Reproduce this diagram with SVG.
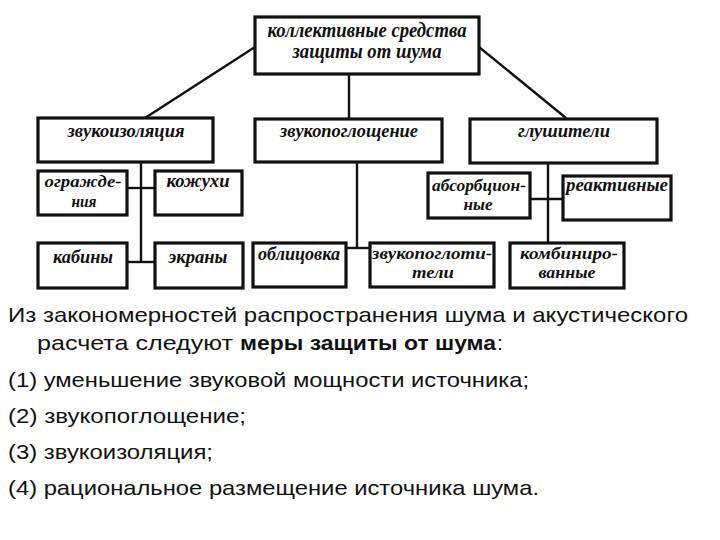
<svg xmlns="http://www.w3.org/2000/svg" width="720" height="540" viewBox="0 0 720 540">
<style>
.box{fill:#fff;stroke:#111;stroke-width:3.2}
.ln{stroke:#111;stroke-width:2.4;fill:none}
.t{font-family:"Liberation Serif","DejaVu Serif",serif;font-weight:bold;font-style:italic;font-size:18.5px;fill:#111;text-anchor:middle}
.tt{font-size:20px}
.s{font-size:17.5px}
.b{font-family:"Liberation Sans",Arial,sans-serif;font-size:21px;fill:#111}
</style>
<rect width="720" height="540" fill="#fff"/>
<g id="connectors">
<line class="ln" x1="349" y1="74" x2="349" y2="118"/>
<line class="ln" x1="255" y1="47" x2="145" y2="118"/>
<line class="ln" x1="479" y1="47" x2="566" y2="118"/>
<line class="ln" x1="141" y1="162" x2="141" y2="262"/>
<line class="ln" x1="127" y1="188" x2="155" y2="188"/>
<line class="ln" x1="127" y1="262" x2="155" y2="262"/>
<line class="ln" x1="357" y1="162" x2="357" y2="248"/>
<line class="ln" x1="346" y1="248" x2="370" y2="248"/>
<line class="ln" x1="548" y1="163" x2="548" y2="243"/>
<line class="ln" x1="530" y1="199" x2="563" y2="199"/>
</g>
<g id="root">
<rect class="box" x="255" y="17" width="224" height="57"/>
<text class="t tt" x="367" y="37" textLength="199" lengthAdjust="spacingAndGlyphs">коллективные средства</text>
<text class="t tt" x="367" y="58" textLength="149" lengthAdjust="spacingAndGlyphs">защиты от шума</text>
</g>
<g id="zvukoizolyaciya">
<rect class="box" x="38" y="118" width="175" height="44"/>
<text class="t" x="126" y="137" textLength="117" lengthAdjust="spacingAndGlyphs">звукоизоляция</text>
</g>
<g id="zvukopogloshchenie">
<rect class="box" x="255" y="119" width="187" height="43"/>
<text class="t" x="349" y="137" textLength="138" lengthAdjust="spacingAndGlyphs">звукопоглощение</text>
</g>
<g id="glushiteli">
<rect class="box" x="470" y="119" width="187" height="44"/>
<text class="t" x="564" y="137" textLength="92" lengthAdjust="spacingAndGlyphs">глушители</text>
</g>
<g id="ograzhdeniya">
<rect class="box" x="38" y="171" width="89" height="44"/>
<text class="t s" x="83" y="187" textLength="77" lengthAdjust="spacingAndGlyphs">огражде-</text>
<text class="t s" x="84" y="207" textLength="25" lengthAdjust="spacingAndGlyphs">ния</text>
</g>
<g id="kozhuhi">
<rect class="box" x="155" y="171" width="87" height="44"/>
<text class="t" x="198" y="187" textLength="63" lengthAdjust="spacingAndGlyphs">кожухи</text>
</g>
<g id="kabiny">
<rect class="box" x="38" y="243" width="89" height="45"/>
<text class="t" x="83" y="263" textLength="60" lengthAdjust="spacingAndGlyphs">кабины</text>
</g>
<g id="ekrany">
<rect class="box" x="155" y="243" width="88" height="45"/>
<text class="t" x="198" y="263" textLength="59" lengthAdjust="spacingAndGlyphs">экраны</text>
</g>
<g id="oblicovka">
<rect class="box" x="253" y="243" width="93" height="44"/>
<text class="t" x="299" y="260" textLength="82" lengthAdjust="spacingAndGlyphs">облицовка</text>
</g>
<g id="zvukopoglotiteli">
<rect class="box" x="370" y="243" width="124" height="44"/>
<text class="t s" x="432" y="259" textLength="120" lengthAdjust="spacingAndGlyphs">звукопоглоти-</text>
<text class="t s" x="433" y="278" textLength="42" lengthAdjust="spacingAndGlyphs">тели</text>
</g>
<g id="absorbcionnye">
<rect class="box" x="428" y="173" width="102" height="45"/>
<text class="t s" x="479" y="191" textLength="94" lengthAdjust="spacingAndGlyphs">абсорбцион-</text>
<text class="t s" x="478" y="210" textLength="29" lengthAdjust="spacingAndGlyphs">ные</text>
</g>
<g id="reaktivnye">
<rect class="box" x="563" y="176" width="108" height="44"/>
<text class="t" x="617" y="191" textLength="102" lengthAdjust="spacingAndGlyphs">реактивные</text>
</g>
<g id="kombinirovannye">
<rect class="box" x="510" y="243" width="114" height="45"/>
<text class="t s" x="569" y="259" textLength="98" lengthAdjust="spacingAndGlyphs">комбиниро-</text>
<text class="t s" x="567" y="278" textLength="57" lengthAdjust="spacingAndGlyphs">ванные</text>
</g>
<g id="body">
<text class="b" x="8" y="322" textLength="680" lengthAdjust="spacingAndGlyphs">Из закономерностей распространения шума и акустического</text>
<text class="b" x="37" y="350" textLength="196" lengthAdjust="spacingAndGlyphs">расчета следуют</text>
<text class="b" x="240" y="350" font-weight="bold" textLength="256" lengthAdjust="spacingAndGlyphs">меры защиты от шума</text>
<text class="b" x="497" y="350">:</text>
<text class="b" x="8" y="387" textLength="521" lengthAdjust="spacingAndGlyphs">(1) уменьшение звуковой мощности источника;</text>
<text class="b" x="8" y="423" textLength="238" lengthAdjust="spacingAndGlyphs">(2) звукопоглощение;</text>
<text class="b" x="8" y="459" textLength="205" lengthAdjust="spacingAndGlyphs">(3) звукоизоляция;</text>
<text class="b" x="8" y="495" textLength="531" lengthAdjust="spacingAndGlyphs">(4) рациональное размещение источника шума.</text>
</g>
</svg>
